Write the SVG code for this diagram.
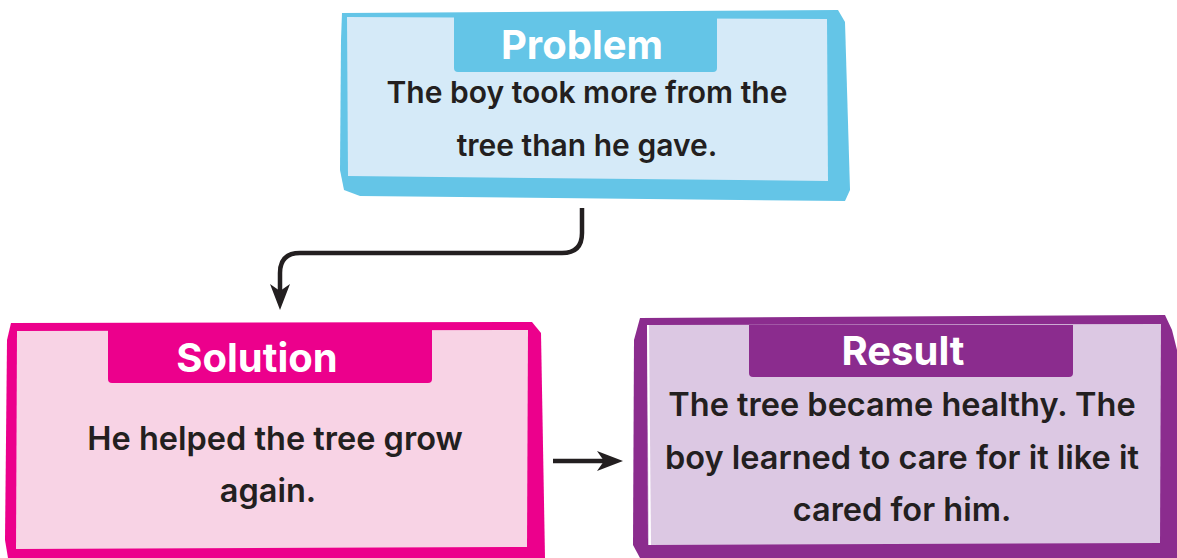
<svg xmlns="http://www.w3.org/2000/svg" width="1177" height="558" viewBox="0 0 1177 558">
<style>
.title{font-family:Inter,"Noto Sans",sans-serif;font-weight:700;font-size:40px;fill:#ffffff;text-anchor:middle}
.body{font-family:Inter,"Noto Sans",sans-serif;font-weight:600;font-size:32.5px;fill:#231f20;text-anchor:middle}
.pbody{font-size:30px}
.conn{fill:none;stroke:#231f20;stroke-width:4.5}
</style>
<defs>
<marker id="ah" markerWidth="26" markerHeight="20" refX="18" refY="10" orient="auto" markerUnits="userSpaceOnUse" viewBox="0 0 26 20">
<path d="M0,0 L26,10 L0,20 L7,10 Z" fill="#231f20"/>
</marker>
</defs>
<rect width="1177" height="558" fill="#ffffff"/>
<g id="problem">
<path d="M342,13 L838,10 L845,22 L850,190 L845,201 L360,196 L344,190 L340,170 L341,40 Z" fill="#64c5e7"/>
<path d="M347,17 L827,19 L828,181 L348,176 Z" fill="#d5eaf8"/>
<path d="M454,17 L717,17 L717,68 Q717,72 713,72 L458,72 Q454,72 454,68 Z" fill="#64c5e7"/>
<text class="title" x="582" y="59">Problem</text>
<text class="body pbody" x="587" y="103">The boy took more from the</text>
<text class="body pbody" x="587" y="156">tree than he gave.</text>
</g>
<g id="solution">
<path d="M11,323 L532,322 L541,333 L545,558 L8,558 L5,540 L7,340 Z" fill="#ec008c"/>
<path d="M17,331 L528,330 L527,547 L16,549 Z" fill="#f8d3e5"/>
<path d="M108,330 L432,330 L432,379 Q432,383 428,383 L112,383 Q108,383 108,379 Z" fill="#ec008c"/>
<text class="title" x="257" y="372">Solution</text>
<text class="body" x="275" y="450">He helped the tree grow</text>
<text class="body" x="268" y="502">again.</text>
</g>
<g id="result">
<path d="M640,318 L1165,315 L1172,330 L1177,350 L1177,558 L640,558 L633,545 L634,340 Z" fill="#8b2c8e"/>
<path d="M647,325 L1161,324 L1160,543 L648,545 Z" fill="#dcc8e3"/>
<line x1="648" y1="325" x2="650" y2="545" stroke="#ffffff" stroke-width="2"/>
<path d="M749,325 L1073,325 L1073,373 Q1073,377 1069,377 L753,377 Q749,377 749,373 Z" fill="#8b2c8e"/>
<text class="title" x="903" y="365">Result</text>
<text class="body" x="902" y="416">The tree became healthy. The</text>
<text class="body" x="902" y="469">boy learned to care for it like it</text>
<text class="body" x="902" y="521">cared for him.</text>
</g>
<g id="connectors">
<path class="conn" d="M582,208 L582,233 Q582,253 562,253 L300,253 Q280,253 280,273 L280,302" marker-end="url(#ah)"/>
<path class="conn" d="M553,461 L615,461" marker-end="url(#ah)"/>
</g>
</svg>
